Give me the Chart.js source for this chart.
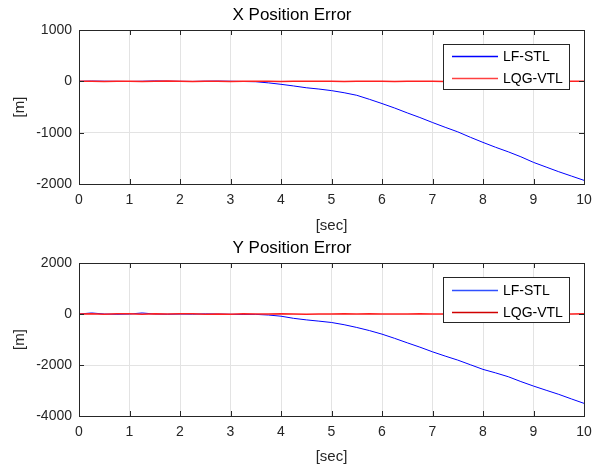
<!DOCTYPE html>
<html>
<head>
<meta charset="utf-8">
<script src="https://cdn.jsdelivr.net/npm/chart.js@4"></script>
<style>
  body { margin: 0; background: #fff; }
  #wrap { position: relative; width: 594px; height: 471px; }
  canvas { position: absolute; left: 0; }
</style>
</head>
<body>
<div id="wrap">
  <canvas id="chartX" width="594" height="235" style="top:0px"></canvas>
  <canvas id="chartY" width="594" height="235" style="top:233px"></canvas>
</div>
<script>
let times=[0,0.25,0.5,0.75,1,1.25,1.5,1.75,2,2.25,2.5,2.75,3,3.25,3.5,3.75,4,4.25,4.5,4.75,5,
  5.25,5.5,5.75,6,6.25,6.5,6.75,7,7.25,7.5,7.75,8,8.25,8.5,8.75,9,9.25,9.5,9.75,10];

// X position error [m]
let xLF=[0,5,3,0,-3,2,8,4,0,-2,3,5,2,-3,-8,-30,-58,-90,-125,-150,-181,
  -222,-272,-350,-433,-520,-615,-705,-802,-895,-984,-1090,-1190,-1285,-1373,-1470,-1579,-1670,-1761,-1845,-1929];
let xLQG=[0,3,-2,4,1,-3,2,5,0,-2,3,1,-1,2,4,0,-3,2,1,3,0,
  -2,2,4,1,-1,3,0,2,-2,1,3,0,-1,2,4,1,0,-2,3,1];

// Y position error [m]
let yLF=[0,40,0,-10,0,40,0,-10,0,-5,5,0,-10,-20,-15,-40,-86,-170,-230,-280,-333,
  -420,-528,-650,-790,-955,-1130,-1300,-1483,-1650,-1808,-1990,-2172,-2310,-2460,-2650,-2826,-2990,-3151,-3330,-3504];
let yLQG=[0,10,-8,5,12,-6,8,-4,6,10,-5,3,-8,6,4,-3,7,2,-5,4,0,
  6,-3,5,2,-4,3,8,-2,4,1,-6,3,5,-2,4,0,6,-3,2,5];

let xTicksY=[-2000,-1000,0,1000];
let yTicksY=[-4000,-2000,0,2000];
let seriesNames=['LF-STL','LQG-VTL'];

const FONT="'Liberation Sans', Arial, sans-serif";

function pts(vals){
  return times.map(function(t,i){ return {x:t, y:vals[i]}; });
}

// axes box with inward tick marks on all four sides
const boxTicks={
  id:'boxTicks',
  afterDatasetsDraw(chart){
    let ctx=chart.ctx;
    let a=chart.chartArea;
    let sx=chart.scales.x, sy=chart.scales.y;
    let len=5;
    ctx.save();
    ctx.strokeStyle='#262626';
    ctx.lineWidth=1;
    ctx.beginPath();
    sx.ticks.forEach(function(t){
      let px=Math.round(sx.getPixelForValue(t.value))+0.5;
      ctx.moveTo(px,a.bottom); ctx.lineTo(px,a.bottom-len);
      ctx.moveTo(px,a.top); ctx.lineTo(px,a.top+len);
    });
    sy.ticks.forEach(function(t){
      let py=Math.round(sy.getPixelForValue(t.value))+0.5;
      ctx.moveTo(a.left,py); ctx.lineTo(a.left+len,py);
      ctx.moveTo(a.right,py); ctx.lineTo(a.right-len,py);
    });
    ctx.stroke();
    ctx.strokeRect(Math.round(a.left)+0.5,Math.round(a.top)+0.5,Math.round(a.right-a.left),Math.round(a.bottom-a.top));
    ctx.restore();
  }
};

// boxed legend in the upper right of the axes
const boxLegend={
  id:'boxLegend',
  afterDraw(chart){
    let ctx=chart.ctx;
    let a=chart.chartArea;
    let opts=chart.options.plugins.boxLegend;
    let w=126, h=45;
    let x0=Math.round(a.right)-15-w, y0=Math.round(a.top)+14;
    ctx.save();
    ctx.fillStyle='#fff';
    ctx.fillRect(x0,y0,w,h);
    ctx.strokeStyle='#262626';
    ctx.lineWidth=1;
    ctx.strokeRect(x0+0.5,y0+0.5,w,h);
    ctx.font='14px '+FONT;
    ctx.textBaseline='middle';
    ctx.textAlign='left';
    chart.data.datasets.forEach(function(ds,i){
      let y=y0+opts.rowOffset+i*22;
      ctx.strokeStyle=opts.colors[i];
      ctx.lineWidth=1.3;
      ctx.beginPath();
      ctx.moveTo(x0+9,y); ctx.lineTo(x0+55,y);
      ctx.stroke();
      ctx.fillStyle='#000';
      ctx.fillText(ds.label,x0+60,y+0.5);
    });
    ctx.restore();
  }
};

function makeChart(id,title,lf,lqg,ticks,plotBottom,xTitlePad,legendColors,rowOffset){
  let ctx=document.getElementById(id).getContext('2d');
  return new Chart(ctx,{
    type:'line',
    data:{
      datasets:[
        {label:seriesNames[0],data:pts(lf),borderColor:'#0000ff',borderWidth:1,pointRadius:0,order:1},
        {label:seriesNames[1],data:pts(lqg),borderColor:'#ff2020',borderWidth:1.5,pointRadius:0,order:0}
      ]
    },
    options:{
      responsive:false,
      animation:false,
      layout:{padding:{left:0,right:10,top:0,bottom:0}},
      plugins:{
        legend:{display:false},
        tooltip:{enabled:false},
        boxLegend:{colors:legendColors,rowOffset:rowOffset},
        title:{display:true,text:title,color:'#000',
          font:{family:FONT,size:17,weight:'normal',lineHeight:1},
          padding:{top:7,bottom:6}}
      },
      scales:{
        x:{
          type:'linear',min:0,max:10,
          ticks:{stepSize:1,color:'#262626',padding:8,maxRotation:0,
            font:{family:FONT,size:14}},
          grid:{color:'#e3e3e3',drawTicks:false},
          border:{display:false},
          title:{display:true,text:'[sec]',color:'#262626',
            font:{family:FONT,size:15,lineHeight:1},
            padding:{top:0,bottom:xTitlePad}},
          afterFit:function(s){ s.height=235-plotBottom; s.paddingLeft=0; s.paddingRight=0; }
        },
        y:{
          min:ticks[0],max:ticks[ticks.length-1],
          afterBuildTicks:function(s){ s.ticks=ticks.map(function(v){ return {value:v}; }); },
          ticks:{color:'#262626',padding:7,
            font:{family:FONT,size:14},
            callback:function(v){ return String(v); }},
          grid:{color:'#e3e3e3',drawTicks:false},
          border:{display:false},
          title:{display:true,text:'[m]',color:'#262626',
            font:{family:FONT,size:15,lineHeight:1},
            padding:{top:12,bottom:0}},
          afterFit:function(s){ s.width=79; s.paddingTop=0; s.paddingBottom=0; }
        }
      }
    },
    plugins:[boxTicks,boxLegend]
  });
}

makeChart('chartX','X Position Error',xLF,xLQG,xTicksY,184,2,['#0000ff','#ff4040'],12.5);
makeChart('chartY','Y Position Error',yLF,yLQG,yTicksY,183,4,['#3050ff','#d00000'],13.5);
</script>
</body>
</html>
